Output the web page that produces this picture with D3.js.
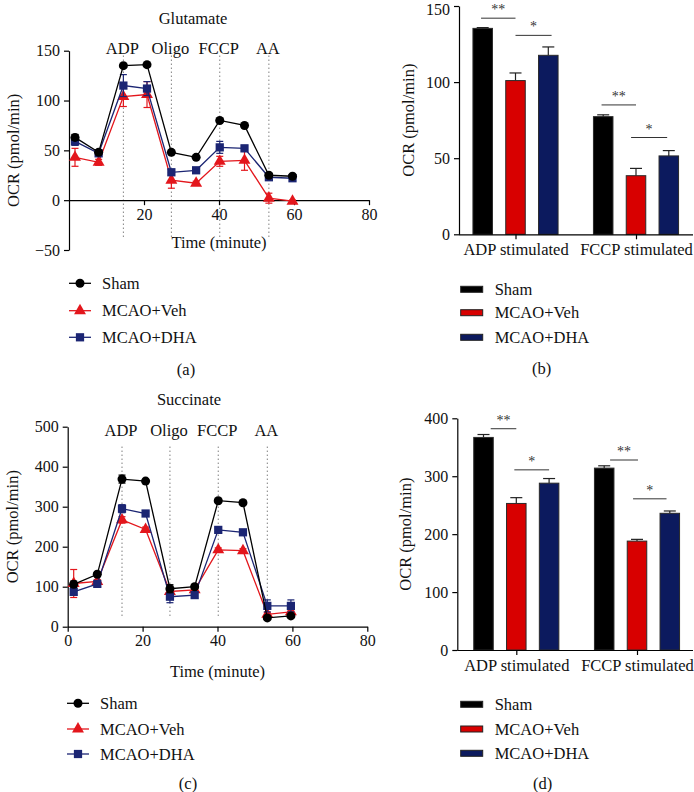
<!DOCTYPE html>
<html><head><meta charset="utf-8">
<script src="https://cdn.jsdelivr.net/npm/d3@7"></script>
<style>
body{margin:0;background:#fff}
svg{display:block}
text{font-family:"Liberation Serif","Times New Roman",serif;fill:#111}
</style>
</head><body><svg id="chart" width="694" height="792"></svg>
<script>
// ---------- data ----------
const seriesNames = ["Sham", "MCAO+Veh", "MCAO+DHA"];
const lineColors = ["#000000", "#e3161c", "#1b2573"];
const barColors = ["#000000", "#d80000", "#0c1a5e"];
const times = [1.6, 7.9, 14.5, 20.8, 27.3, 33.9, 40.2, 46.8, 53.3, 59.6];
const injLabels = ["ADP", "Oligo", "FCCP", "AA"];
const injTimes = [14.5, 27.3, 40.2, 53.3];

const gluSham = [63, 48, 135, 136, 48, 43, 80, 75, 25, 24];
const gluShamErr = [3, 2, 1, 1, 2, 1, 2, 2, 2, 1];
const gluVeh = [43, 38, 104, 106, 20, 17, 39, 40, 2, -1];
const gluVehErr = [9, 3, 10, 13, 8, 2, 5, 10, 5, 1];
const gluDha = [59, 47, 115, 112, 28, 30, 53, 52, 23, 22];
const gluDhaErr = [4, 2, 11, 7, 3, 2, 6, 3, 2, 2];

const sucSham = [106, 131, 369, 364, 95, 100, 315, 310, 22, 27];
const sucShamErr = [8, 4, 10, 3, 10, 4, 4, 4, 3, 3];
const sucVeh = [108, 113, 267, 243, 88, 92, 192, 190, 31, 37];
const sucVehErr = [35, 5, 8, 6, 8, 5, 5, 5, 5, 5];
const sucDha = [87, 107, 295, 283, 75, 79, 242, 236, 52, 52];
const sucDhaErr = [8, 5, 10, 6, 15, 8, 5, 5, 15, 15];

const barGroups = ["ADP stimulated", "FCCP stimulated"];
const gluBarSham = [135.3, 77.3], gluBarShamErr = [0.5, 1.2];
const gluBarVeh = [101, 38.5], gluBarVehErr = [5, 4.8];
const gluBarDha = [117.6, 51.5], gluBarDhaErr = [5.5, 3.5];
const sucBarSham = [367, 314], sucBarShamErr = [5, 4];
const sucBarVeh = [253, 188], sucBarVehErr = [10, 3];
const sucBarDha = [288, 236], sucBarDhaErr = [8, 4];

// significance: group, from bar index, to bar index, height (data units), label
const gluSig = [
  {g: 0, from: -0.05, to: 1.0, y: 142, label: "**"},
  {g: 0, from: 1.0, to: 2.1, y: 130.7, label: "*"},
  {g: 1, from: -0.05, to: 1.0, y: 85, label: "**"},
  {g: 1, from: 0.85, to: 1.95, y: 63.6, label: "*"}
];
const sucSig = [
  {g: 0, from: 0.22, to: 1.0, y: 382, label: "**"},
  {g: 0, from: 0.94, to: 2.0, y: 311, label: "*"},
  {g: 1, from: 0.18, to: 1.03, y: 328, label: "**"},
  {g: 1, from: 0.88, to: 1.9, y: 261, label: "*"}
];

// ---------- drawing ----------
const svg = d3.select("#chart");
const FS = 16.5;
const TFS = 16;
const symbols = [d3.symbolCircle, d3.symbolTriangle, d3.symbolSquare];
const symSizes = [64, 62, 68];

function styleAxis(g) {
  g.selectAll(".domain").attr("stroke", "#000").attr("stroke-width", 1.2);
  g.selectAll(".tick line").attr("stroke", "#000").attr("stroke-width", 1.2);
  g.selectAll(".tick text").attr("font-size", TFS).attr("fill", "#111")
    .attr("font-family", '"Liberation Serif","Times New Roman",serif');
}

function lineChart(o) {
  const x = d3.scaleLinear().domain([0, 80]).range(o.xr);
  const y = d3.scaleLinear().domain(o.yd).range(o.yr);
  const g = svg.append("g");
  g.append("text").attr("x", o.titleX).attr("y", o.titleY).attr("text-anchor", "middle")
    .attr("font-size", FS).attr("dominant-baseline", "central").text(o.title);
  injTimes.forEach((t, i) => {
    g.append("line").attr("x1", x(t)).attr("x2", x(t))
      .attr("y1", y(o.dotTop)).attr("y2", y(o.dotBot))
      .attr("stroke", "#444").attr("stroke-width", 1).attr("stroke-dasharray", "1,3");
    g.append("text").attr("x", x(t) - 1).attr("y", y(o.labelY)).attr("text-anchor", "middle")
      .attr("dominant-baseline", "central").attr("font-size", FS).text(injLabels[i]);
  });
  const ya = g.append("g").attr("transform", `translate(${x(0)},0)`)
    .call(d3.axisLeft(y).tickValues(o.yTicks).tickSize(5).tickSizeOuter(0).tickPadding(4));
  styleAxis(ya);
  const xa = g.append("g").attr("transform", `translate(0,${y(0)})`)
    .call(d3.axisBottom(x).tickValues(o.xTicks).tickSize(5).tickSizeOuter(0).tickPadding(3));
  styleAxis(xa);
  g.append("text").attr("transform", `translate(${o.yLabelX},${(o.yr[0] + o.yr[1]) / 2}) rotate(-90)`)
    .attr("text-anchor", "middle").attr("dominant-baseline", "central").attr("font-size", FS)
    .text("OCR (pmol/min)");
  g.append("text").attr("x", (o.xr[0] + o.xr[1]) / 2).attr("y", o.xLabelY).attr("text-anchor", "middle")
    .attr("dominant-baseline", "central").attr("font-size", FS).text("Time (minute)");
  const order = [1, 2, 0];
  order.forEach(si => {
    const vals = o.series[si], errs = o.errs[si], col = lineColors[si];
    const pts = times.map((t, i) => ({t, v: vals[i], e: errs[i]}));
    const sg = g.append("g");
    sg.append("path").datum(pts)
      .attr("d", d3.line().x(d => x(d.t)).y(d => y(d.v)))
      .attr("fill", "none").attr("stroke", col).attr("stroke-width", 1.3);
    pts.forEach(d => {
      const cx = x(d.t), y1 = y(d.v + d.e), y2 = y(d.v - d.e);
      sg.append("line").attr("x1", cx).attr("x2", cx).attr("y1", y1).attr("y2", y2)
        .attr("stroke", col).attr("stroke-width", 1.2);
      [y1, y2].forEach(yy => sg.append("line").attr("x1", cx - 3.5).attr("x2", cx + 3.5)
        .attr("y1", yy).attr("y2", yy).attr("stroke", col).attr("stroke-width", 1.2));
    });
    sg.selectAll("path.m").data(pts).join("path").attr("class", "m")
      .attr("transform", d => `translate(${x(d.t)},${y(d.v)})`)
      .attr("d", d3.symbol(symbols[si], symSizes[si])).attr("fill", col);
  });
  seriesNames.forEach((n, i) => {
    const ly = o.legY[i];
    g.append("line").attr("x1", o.legX).attr("x2", o.legX + 22).attr("y1", ly).attr("y2", ly)
      .attr("stroke", lineColors[i]).attr("stroke-width", 1.3);
    g.append("path").attr("transform", `translate(${o.legX + 11},${ly})`)
      .attr("d", d3.symbol(symbols[i], symSizes[i])).attr("fill", lineColors[i]);
    g.append("text").attr("x", o.legX + 33).attr("y", ly).attr("dominant-baseline", "central")
      .attr("font-size", FS).text(n);
  });
  g.append("text").attr("x", o.tagX).attr("y", o.tagY).attr("text-anchor", "middle")
    .attr("dominant-baseline", "central").attr("font-size", FS).text(o.tag);
}

function barChart(o) {
  const y = d3.scaleLinear().domain(o.yd).range(o.yr);
  const gx = d3.scalePoint().domain(barGroups).range(o.gr);
  const inner = d3.scaleBand().domain([0, 1, 2]).range([-49.2, 49.2])
    .paddingInner(0.405).paddingOuter(0.2025);
  const bw = inner.bandwidth();
  const idx = d3.scaleLinear().domain([0, 2]).range([inner(0) + bw / 2, inner(2) + bw / 2]);
  const g = svg.append("g");
  [0, 1, 2].forEach(si => {
    barGroups.forEach((grp, gi) => {
      const v = o.vals[si][gi], e = o.errs[si][gi];
      const bx = gx(grp) + inner(si);
      const cx = bx + bw / 2;
      g.append("line").attr("x1", cx).attr("x2", cx).attr("y1", y(v)).attr("y2", y(v + e))
        .attr("stroke", "#222").attr("stroke-width", 1.2);
      g.append("line").attr("x1", cx - 6).attr("x2", cx + 6).attr("y1", y(v + e)).attr("y2", y(v + e))
        .attr("stroke", "#222").attr("stroke-width", 1.2);
      g.append("rect").attr("x", bx).attr("y", y(v)).attr("width", bw).attr("height", y(0) - y(v))
        .attr("fill", barColors[si]).attr("stroke", "#2a2a2a").attr("stroke-width", 1);
    });
  });
  const ya = g.append("g").attr("transform", `translate(${o.axisX},0)`)
    .call(d3.axisLeft(y).tickValues(o.yTicks).tickSize(5).tickSizeOuter(0).tickPadding(4));
  styleAxis(ya);
  // keep the topmost tick label inside the page
  ya.selectAll(".tick text").attr("dy", d => (y(d) < 12 ? "0.55em" : "0.32em"));
  const xa = g.append("g").attr("transform", `translate(0,${y(0)})`)
    .call(d3.axisBottom(gx).tickSize(5).tickSizeOuter(0).tickPadding(4));
  styleAxis(xa);
  xa.selectAll(".tick text").attr("font-size", FS);
  xa.select(".domain").attr("d", `M${o.axisX},0.5H${o.axisEnd}`);
  g.append("text").attr("transform", `translate(${o.yLabelX},${(o.yr[0] + o.yr[1]) / 2}) rotate(-90)`)
    .attr("text-anchor", "middle").attr("dominant-baseline", "central").attr("font-size", FS)
    .text("OCR (pmol/min)");
  o.sig.forEach(s => {
    const base = gx(barGroups[s.g]);
    const x1 = base + idx(s.from), x2 = base + idx(s.to), yy = y(s.y);
    g.append("line").attr("x1", x1).attr("x2", x2).attr("y1", yy).attr("y2", yy)
      .attr("stroke", "#333").attr("stroke-width", 1);
    g.append("text").attr("x", (x1 + x2) / 2).attr("y", yy - 4).attr("text-anchor", "middle")
      .attr("font-size", 14).style("fill", "#333").text(s.label);
  });
  seriesNames.forEach((n, i) => {
    const ly = o.legY[i];
    g.append("rect").attr("x", o.legX).attr("y", ly - 3).attr("width", 22).attr("height", 6)
      .attr("fill", barColors[i]).attr("stroke", "#222").attr("stroke-width", 1);
    g.append("text").attr("x", o.legX + 34).attr("y", ly).attr("dominant-baseline", "central")
      .attr("font-size", FS).text(n);
  });
  g.append("text").attr("x", o.tagX).attr("y", o.tagY).attr("text-anchor", "middle")
    .attr("dominant-baseline", "central").attr("font-size", FS).text(o.tag);
}

lineChart({
  title: "Glutamate", titleX: 193, titleY: 18,
  xr: [69, 369], yd: [-50, 150], yr: [250, 50.7],
  yTicks: [-50, 0, 50, 100, 150], xTicks: [20, 40, 60, 80],
  dotTop: 145, dotBot: -37, labelY: 152,
  yLabelX: 13, xLabelY: 242,
  series: [gluSham, gluVeh, gluDha], errs: [gluShamErr, gluVehErr, gluDhaErr],
  legX: 69, legY: [283.3, 310.7, 337.3], tag: "(a)", tagX: 186, tagY: 369
});
lineChart({
  title: "Succinate", titleX: 189, titleY: 399,
  xr: [67.7, 367.3], yd: [0, 500], yr: [626.7, 426.7],
  yTicks: [0, 100, 200, 300, 400, 500], xTicks: [0, 20, 40, 60, 80],
  dotTop: 450, dotBot: 25, labelY: 490,
  yLabelX: 12, xLabelY: 671.7,
  series: [sucSham, sucVeh, sucDha], errs: [sucShamErr, sucVehErr, sucDhaErr],
  legX: 67, legY: [703.3, 729, 754], tag: "(c)", tagX: 188, tagY: 783.5
});
barChart({
  yd: [0, 150], yr: [234.3, 6], yTicks: [0, 50, 100, 150],
  gr: [515.5, 636], axisX: 459, axisEnd: 693, yLabelX: 408,
  vals: [gluBarSham, gluBarVeh, gluBarDha], errs: [gluBarShamErr, gluBarVehErr, gluBarDhaErr],
  sig: gluSig, legX: 460.7, legY: [289.3, 312.7, 337.3], tag: "(b)", tagX: 541.7, tagY: 368
});
barChart({
  yd: [0, 400], yr: [650, 418.3], yTicks: [0, 100, 200, 300, 400],
  gr: [516.3, 637], axisX: 457.3, axisEnd: 693, yLabelX: 405,
  vals: [sucBarSham, sucBarVeh, sucBarDha], errs: [sucBarShamErr, sucBarVehErr, sucBarDhaErr],
  sig: sucSig, legX: 460.7, legY: [704.3, 729, 753.3], tag: "(d)", tagX: 542.7, tagY: 783.5
});
</script>
</body></html>
